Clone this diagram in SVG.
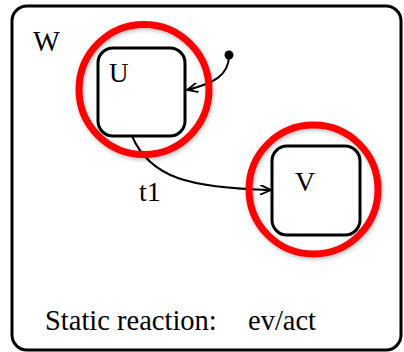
<svg xmlns="http://www.w3.org/2000/svg" width="404" height="352" viewBox="0 0 404 352">
<style>
.box{fill:#fff;stroke:#000;stroke-width:3}
.ring{fill:none;stroke:#f00;stroke-width:7;filter:url(#sh)}
.edge{fill:none;stroke:#000;stroke-width:2}
</style>
<defs>
<marker id="arr" viewBox="0 0 12 10" refX="11" refY="5" markerWidth="12" markerHeight="10" markerUnits="userSpaceOnUse" orient="auto">
<path d="M0,0 L11,5 L0,10 M3,5 L11,5" fill="none" stroke="#000" stroke-width="1.8"/>
</marker>
<filter id="sh" x="-20%" y="-20%" width="140%" height="140%">
<feGaussianBlur in="SourceAlpha" stdDeviation="2"/>
<feOffset dx="1" dy="2" result="b"/>
<feComponentTransfer><feFuncA type="linear" slope="0.25"/></feComponentTransfer>
<feMerge><feMergeNode/><feMergeNode in="SourceGraphic"/></feMerge>
</filter>
</defs>
<g id="W">
<rect class="box" x="12" y="6" width="389" height="344" rx="15" stroke-width="2.5"/>
<g font-family="Liberation Serif, serif" font-size="28.5" fill="#000">
<text x="33" y="51">W</text>
<text x="45" y="330">Static reaction:</text>
<text x="248" y="330">ev/act</text>
</g>
</g>
<g id="U">
<rect class="box" x="98" y="48" width="87" height="88" rx="15"/>
<text x="109" y="82" font-family="Liberation Serif, serif" font-size="27">U</text>
</g>
<g id="V">
<rect class="box" x="272" y="146" width="88" height="89" rx="15"/>
<text x="295" y="191" font-family="Liberation Serif, serif" font-size="28">V</text>
</g>
<g id="init">
<circle cx="229" cy="55" r="4.5" fill="#000"/>
</g>
<g id="connectors">
<path class="edge" d="M229,57 C228,75 215,83 187,90" marker-end="url(#arr)"/>
<path class="edge" d="M132,136 C150,178 190,188 271,190" marker-end="url(#arr)"/>
<text x="139" y="201" font-family="Liberation Serif, serif" font-size="28">t1</text>
</g>
<g id="highlights">
<circle class="ring" cx="144" cy="89.5" r="65"/>
<circle class="ring" cx="313.5" cy="189.5" r="64.5"/>
</g>
</svg>
